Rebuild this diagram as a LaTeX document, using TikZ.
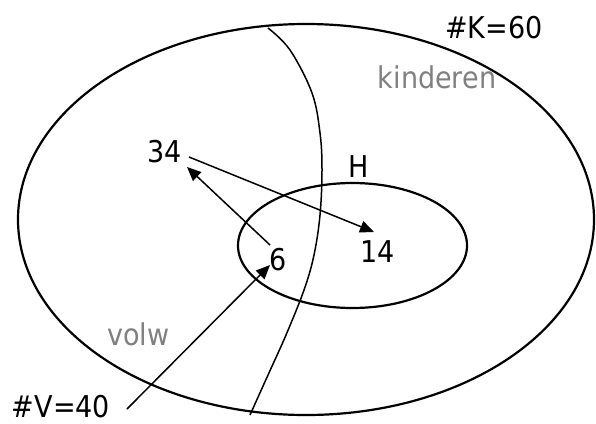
\documentclass[tikz,border=0pt]{standalone}
\usepackage{fontspec}
\setmainfont{DejaVu Sans Condensed}
\usetikzlibrary{arrows.meta}
\definecolor{lblgray}{HTML}{808080}
\begin{document}
\begin{tikzpicture}[x=1pt,y=-1pt,
  lbl/.style={inner sep=0pt,anchor=base,font=\fontsize{30}{30}\selectfont},
  glbl/.style={lbl,text=lblgray},
  setline/.style={line width=2.2pt},
  thin/.style={line width=1.5pt},
  arr/.style={thin,-{Triangle[length=14pt,width=12pt]}}]
\useasboundingbox (0,0) rectangle (596,423);
% sets
\draw[setline] (306,219.5) ellipse [x radius=288,y radius=195.5];
\draw[setline] (352.5,245.5) ellipse [x radius=114.5,y radius=62.5];
% dividing curve
\draw[thin] plot[smooth,tension=0.6] coordinates {(268,28) (290,50) (312,93) (320,133) (322,170) (320,215) (314,255) (304,290) (286,335) (268,375) (250,415)};
% labels
\node[lbl] (K) at (494,38) {\#K=60};
\node[glbl] (kind) at (437,88) {kinderen};
\node[lbl] (n34) at (164.5,162) {34};
\node[lbl] (H) at (359,177) {H};
\node[lbl] (n6) at (278,270) {6};
\node[lbl] (n14) at (377.5,262) {14};
\node[glbl] (volw) at (138.5,345) {volw};
\node[lbl] (V) at (61,417) {\#V=40};
% connector ends
\coordinate (a1s) at (189,157);
\coordinate (a1e) at (374,232);
\coordinate (a2s) at (270,245);
\coordinate (a2e) at (187,167);
\coordinate (a3s) at (127,409);
\coordinate (a3e) at (270,265);
\draw[arr] (a1s) -- (a1e);
\draw[arr] (a2s) -- (a2e);
\draw[arr] (a3s) -- (a3e);
\end{tikzpicture}
\end{document}
